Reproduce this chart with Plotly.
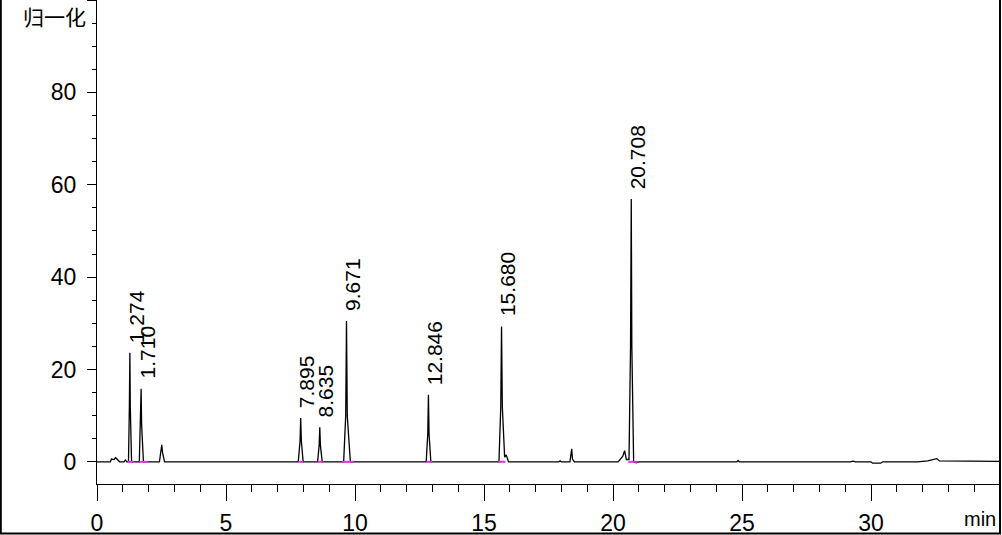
import plotly.graph_objects as go

# Chromatogram trace (time in min, normalized signal)
time_min = [0.0, 0.52, 0.56, 0.66, 0.72, 0.80, 0.88, 1.05, 1.10, 1.16,
            1.22, 1.255, 1.274, 1.29, 1.34,
            1.64, 1.69, 1.710, 1.73, 1.80,
            2.42, 2.49, 2.51, 2.54, 2.62,
            7.80, 7.87, 7.895, 7.92, 7.99,
            8.55, 8.61, 8.635, 8.66, 8.73,
            9.56, 9.64, 9.671, 9.70, 9.82,
            12.76, 12.82, 12.846, 12.87, 12.94,
            15.58, 15.65, 15.680, 15.71, 15.80, 15.86, 15.95,
            17.90, 17.95, 18.00,
            18.33, 18.38, 18.40, 18.43, 18.50,
            20.20, 20.38, 20.45, 20.52, 20.62, 20.68, 20.708, 20.73, 20.80, 20.90, 21.00,
            24.80, 24.85, 24.90,
            29.20, 29.30, 29.40,
            30.00, 30.06, 30.38, 30.45,
            31.80, 32.20, 32.40, 32.55, 32.65, 35.0]
signal = [0.0, 0.0, 0.6, 0.5, 0.9, 0.5, 0.0, 0.0, 0.4, 0.0,
          0.0, 12.0, 23.6, 12.0, 0.0,
          0.0, 8.0, 15.8, 8.0, 0.0,
          0.0, 2.5, 3.7, 2.0, 0.0,
          0.0, 4.5, 9.5, 4.5, 0.0,
          0.0, 3.5, 7.5, 3.5, 0.0,
          0.0, 10.0, 30.5, 10.0, 0.0,
          0.0, 6.0, 14.5, 6.0, 0.0,
          0.0, 12.0, 29.3, 12.0, 1.0, 1.5, 0.0,
          0.0, 0.2, 0.0,
          0.0, 1.5, 2.8, 0.6, 0.0,
          0.0, 1.2, 2.4, 0.5, 0.5, 25.0, 56.9, 25.0, 0.0, -0.2, 0.0,
          0.0, 0.3, 0.0,
          0.0, 0.15, 0.0,
          0.0, -0.3, -0.3, 0.0,
          0.0, 0.2, 0.4, 0.7, 0.2, 0.1]

# Labelled peaks
peak_labels = ["1.274", "1.710", "7.895", "8.635", "9.671", "12.846", "15.680", "20.708"]
peak_rt = [1.274, 1.710, 7.895, 8.635, 9.671, 12.846, 15.680, 20.708]
peak_height = [23.6, 15.8, 9.5, 7.5, 30.5, 14.5, 29.3, 56.9]

# Integration baselines (start, end) in min
base_start = [1.20, 1.64, 7.80, 8.55, 9.50, 12.77, 15.56, 20.60]
base_end = [1.43, 1.98, 8.00, 8.75, 9.95, 13.00, 15.83, 20.96]

x_range = [0, 35]
y_range = [-4.8, 100]

TICK_FONT = "Liberation Sans Narrow, Arial Narrow, Liberation Sans, Arial"

fig = go.Figure()
fig.add_trace(go.Scatter(x=time_min, y=signal, mode="lines",
                         line=dict(color="black", width=1.3), hoverinfo="skip",
                         showlegend=False))

bx, by = [], []
for s, e in zip(base_start, base_end):
    bx += [s, e, None]
    by += [0, 0, None]
fig.add_trace(go.Scatter(x=bx, y=by, mode="lines",
                         line=dict(color="#E030E0", width=2), hoverinfo="skip",
                         showlegend=False))

for lab, rt, h in zip(peak_labels, peak_rt, peak_height):
    fig.add_annotation(x=rt, y=h, text=lab, textangle=-90, showarrow=False,
                       xanchor="center", yanchor="bottom", xshift=6, yshift=8,
                       font=dict(family="Liberation Sans, Arial", size=21, color="black"))

W, H = 1002, 535
L, R, T, B = 97, 2, 0, 51
pw, ph = W - L - R, H - T - B

def px(xp):
    return (xp - L) / pw

def py(yp):
    return (H - B - yp) / ph

fig.add_annotation(xref="paper", yref="paper", x=px(54), y=py(16), text="归一化",
                   showarrow=False, xanchor="center", yanchor="middle",
                   font=dict(family="Noto Sans CJK SC", size=21, color="black"))
fig.add_annotation(xref="paper", yref="paper", x=px(998), y=py(519), text="min",
                   showarrow=False, xanchor="right", yanchor="middle",
                   font=dict(family=TICK_FONT, size=20, color="black"))

# outer frame: left, bottom, right
for x0, y0, x1, y1 in [(0.8, 0, 0.8, 534), (0, 533.5, 1001, 533.5), (1000, 0, 1000, 534)]:
    fig.add_shape(type="line", xref="paper", yref="paper",
                  x0=px(x0), y0=py(y0), x1=px(x1), y1=py(y1),
                  line=dict(color="black", width=2))

fig.update_xaxes(range=x_range, showline=True, linecolor="black", linewidth=1.3,
                 ticks="outside", ticklen=16, tickwidth=1.3, tickcolor="black",
                 dtick=5, tick0=0, showgrid=False, zeroline=False,
                 minor=dict(ticks="outside", ticklen=7, dtick=1, tickcolor="black", tickwidth=1.3),
                 tickfont=dict(family=TICK_FONT, size=23, color="black"),
                 ticklabelstandoff=2)
fig.update_yaxes(range=y_range, showline=True, linecolor="black", linewidth=1.3,
                 ticks="outside", ticklen=9, tickwidth=1.3, tickcolor="black",
                 dtick=20, tick0=0, showgrid=False, zeroline=False,
                 minor=dict(ticks="outside", ticklen=4, dtick=5, tickcolor="black", tickwidth=1.3),
                 tickfont=dict(family=TICK_FONT, size=23, color="black"),
                 ticklabelstandoff=6)

fig.update_layout(width=W, height=H, margin=dict(l=L, r=R, t=T, b=B),
                  plot_bgcolor="white", paper_bgcolor="white")

fig.write_html("out.html", config={"displayModeBar": False},
               post_script="document.body.style.margin='0px';document.body.style.overflow='hidden';")
